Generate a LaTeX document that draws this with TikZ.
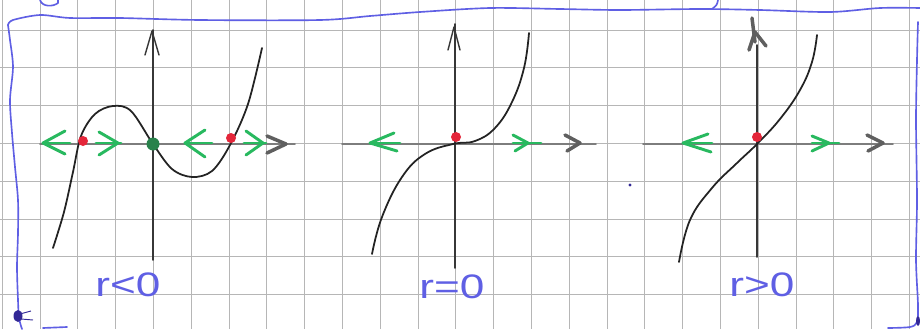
\documentclass[tikz,border=0pt]{standalone}
\usepackage{fontspec}
\setmainfont{Liberation Sans}
\definecolor{gridgray}{RGB}{182,182,182}
\definecolor{axisdark}{RGB}{55,55,55}
\definecolor{axisgray}{RGB}{125,125,125}
\definecolor{tipgray}{RGB}{95,95,95}
\definecolor{curveblack}{RGB}{35,35,35}
\definecolor{flowgreen}{RGB}{40,185,95}
\definecolor{fpred}{RGB}{228,38,58}
\definecolor{fpgreen}{RGB}{40,130,75}
\definecolor{penblue}{RGB}{95,95,228}
\definecolor{inkblue}{RGB}{50,40,150}
\begin{document}
\begin{tikzpicture}[x=0.03cm,y=-0.03cm,
  gridline/.style={line width=0.7pt, draw=gridgray},
  yaxis/.style={line width=1.3pt, draw=axisdark, line cap=round},
  xaxis/.style={line width=1.6pt, draw=axisgray, line cap=round},
  curve/.style={line width=1.5pt, draw=curveblack, line cap=round},
  flow/.style={line width=2.5pt, draw=flowgreen, line cap=round, line join=round},
  xtip/.style={line width=3pt, draw=tipgray, line cap=round, line join=round},
  ytip/.style={line width=1.2pt, draw=axisdark, line cap=round, line join=round},
  border/.style={line width=1.4pt, draw=penblue, line cap=round, line join=round},
  fpr/.style={fill=fpred},
  lab/.style={text=penblue, font=\fontsize{29}{31}\selectfont, xscale=1.3, inner sep=0pt}]
\useasboundingbox (0,0) rectangle (920,329);
\fill[white] (0,0) rectangle (920,329);
% grid paper
\foreach \k in {0,...,24} \draw[gridline] ({2.2+37.8*\k},0) -- ({2.2+37.8*\k},329);
\foreach \k in {1,...,9} \draw[gridline] (0,{-7.8+37.8*\k}) -- (920,{-7.8+37.8*\k});

% ---------- panel 1 : r<0 ----------
\draw[xaxis] (40,144) -- (295,144);
\draw[yaxis] (153,260) -- (153,30);
\draw[ytip] (145,55) -- (152,31) -- (159,55);
\draw[xtip] (267,136) -- (286,144) -- (267,153);
\draw[flow] (43,143) -- (70,143);
\draw[flow] (65,131) -- (43,143) -- (65,154);
\draw[flow] (96,143) -- (121,143);
\draw[flow] (99,132) -- (118,143) -- (99,155);
\draw[flow] (185,143) -- (212,143);
\draw[flow] (205,130) -- (185,143) -- (205,157);
\draw[flow] (244,143) -- (266,143);
\draw[flow] (246,131) -- (263,143) -- (246,155);
\draw[curve] plot[smooth, tension=0.55] coordinates {(53,248) (64,212) (73,172) (81,136) (95,114) (113,106) (131,111) (153,144) (172,169) (192,177) (212,171) (230,145) (248,104) (262,48)};
\fill[fpr] (83,141) circle (5);
\fill[fpr] (231,138) circle (5);
\fill[fpgreen] (153,144) circle (6.5);
\node[lab] (lab1) at (128,285) {r<0};

% ---------- panel 2 : r=0 ----------
\draw[xaxis] (342,144) -- (596,144);
\draw[yaxis] (455,268) -- (455,24);
\draw[ytip] (448,50) -- (454,27) -- (460,50);
\draw[xtip] (565,135) -- (580,143) -- (567,151);
\draw[flow] (370,143) -- (400,143);
\draw[flow] (394,133) -- (370,143) -- (397,151);
\draw[flow] (513,143) -- (541,143);
\draw[flow] (513,135) -- (528,143) -- (515,151);
\draw[curve] plot[smooth, tension=0.7] coordinates {(372,254) (382,217) (402,177) (425,154) (453,144) (475,141) (495,128) (512,102) (524,68) (529,33)};
\fill[fpr] (456,137) circle (5);
\node[lab] (lab2) at (452,287) {r=0};

% ---------- panel 3 : r>0 ----------
\draw[xaxis] (643,144) -- (893,144);
\draw[yaxis] (757,257) -- (757,45);
\draw[xtip] (752,18) -- (755,42);
\draw[xtip] (749,50) -- (755,32) -- (766,46);
\draw[xtip] (867,135) -- (883,143) -- (868,151);
\draw[flow] (683,143) -- (712,143);
\draw[flow] (708,134) -- (683,143) -- (711,152);
\draw[flow] (812,143) -- (839,143);
\draw[flow] (812,136) -- (829,143) -- (812,151);
\draw[curve] plot[smooth, tension=0.7] coordinates {(679,262) (690,220) (712,188) (737,163) (757,144) (780,119) (800,90) (812,62) (817,35)};
\fill[fpr] (757,137) circle (5);
\node[lab] (lab3) at (762,285) {r>0};

% ---------- pen frame ----------
\draw[border] plot[smooth, tension=0.5] coordinates {(8,25) (13,20) (40,15) (70,18) (120,18) (200,20) (320,20) (370,16) (420,12) (490,8) (560,9) (620,10) (700,9) (760,10) (830,12) (880,8) (920,8)};
\draw[border] plot[smooth, tension=0.5] coordinates {(8,25) (10,40) (13,67) (10,100) (12,133) (15,167) (18,200) (18,233) (17,267) (18,300) (19,318) (22,329)};
\draw[border] plot[smooth, tension=0.5] coordinates {(918,22) (917,60) (916,120) (917,200) (916,260) (918,305) (917,322) (910,327) (888,328)};
\draw[border] (43,328) -- (67,327);
\draw[border] (40,0) .. controls (42,7) and (53,7) .. (58,3) -- (58,0);
\draw[border] (718,0) .. controls (717,5) .. (712,9);
\fill[inkblue] (18,316) ellipse (4.5 and 6);
\draw[inkblue, line width=0.8pt] (20,314) -- (31,311);
\draw[inkblue, line width=0.8pt] (21,319) -- (33,320);
\fill[inkblue] (918,321) ellipse (2 and 5);
\fill[inkblue] (630,185) circle (1.6);
\end{tikzpicture}
\end{document}
